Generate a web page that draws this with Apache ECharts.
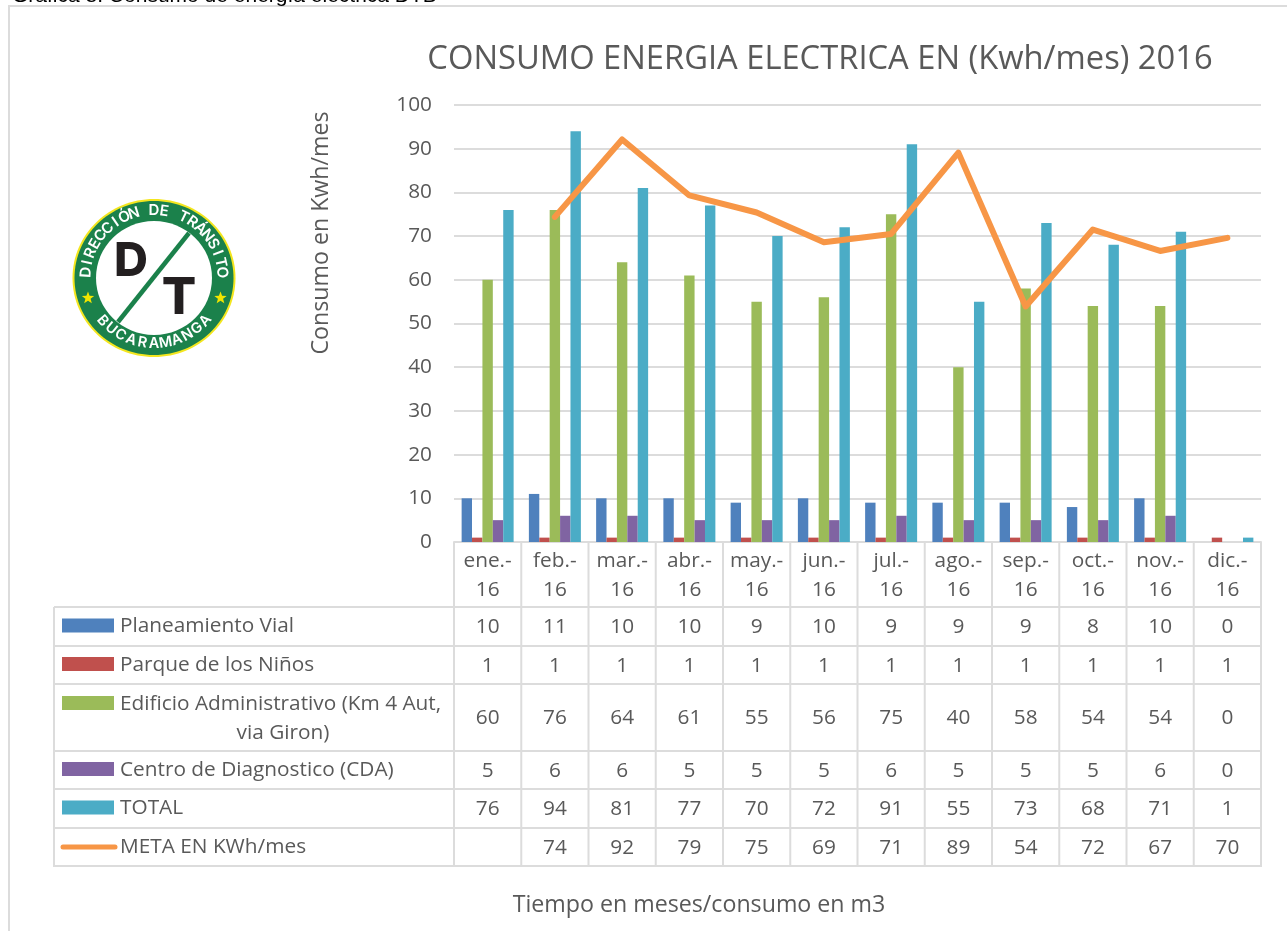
<!DOCTYPE html>
<html>
<head>
<meta charset="utf-8">
<style>
  html, body { margin: 0; padding: 0; background: #fff; }
  #main { width: 1287px; height: 931px; }
</style>
</head>
<body>
<div id="main"></div>
<script src="https://cdn.jsdelivr.net/npm/echarts@6/dist/echarts.min.js"></script>
<script>
var categories = ['ene.-\n16', 'feb.-\n16', 'mar.-\n16', 'abr.-\n16', 'may.-\n16', 'jun.-\n16', 'jul.-\n16', 'ago.-\n16', 'sep.-\n16', 'oct.-\n16', 'nov.-\n16', 'dic.-\n16']
var yTicks = [0, 10, 20, 30, 40, 50, 60, 70, 80, 90, 100]
var planeamiento = [10, 11, 10, 10, 9, 10, 9, 9, 9, 8, 10, 0]
var parque = [1, 1, 1, 1, 1, 1, 1, 1, 1, 1, 1, 1]
var edificio = [60, 76, 64, 61, 55, 56, 75, 40, 58, 54, 54, 0]
var centro = [5, 6, 6, 5, 5, 5, 6, 5, 5, 5, 6, 0]
var total = [76, 94, 81, 77, 70, 72, 91, 55, 73, 68, 71, 1]
// la linea va con decimales, la tabla los muestra redondeados
var meta = [null, 74.4, 92.1, 79.3, 75.4, 68.6, 70.5, 89.1, 53.9, 71.5, 66.6, 69.6]
var metaLabels = ['', 74, 92, 79, 75, 69, 71, 89, 54, 72, 67, 70]

var names = ['Planeamiento Vial', 'Parque de los Niños', 'Edificio Administrativo (Km 4 Aut,', 'Centro de Diagnostico (CDA)', 'TOTAL', 'META EN KWh/mes']
var colors = ['#4f81bd', '#c0504d', '#9bbb59', '#8064a2', '#4bacc6', '#f79646']
var rowValues = [planeamiento, parque, edificio, centro, total, metaLabels]

var FONT = 'Open Sans'
var TEXT = '#595959'
var LINE = '#dcdcdc'
var gridLeft = 454
var gridRight = 1261
var gridTop = 105
var gridBottom = 542
var tableLeft = 54
var rowLines = [607, 646, 684, 751, 789, 828, 866]
var cellW = (gridRight - gridLeft) / categories.length
var CELL_SIZE = 20.8

var chart = echarts.init(document.getElementById('main'))

function hLine(x1, x2, y) {
  return { type: 'line', silent: true, shape: { x1: x1, y1: y, x2: x2, y2: y }, style: { stroke: LINE, lineWidth: 2 } }
}
function vLine(x, y1, y2) {
  return { type: 'line', silent: true, shape: { x1: x, y1: y1, x2: x, y2: y2 }, style: { stroke: LINE, lineWidth: 2 } }
}
function label(text, x, y, size, align, color, family, weight) {
  return {
    type: 'text', silent: true, x: x, y: y,
    style: { text: text, align: align || 'center', verticalAlign: 'middle', fontSize: size, fill: color || TEXT, fontFamily: family || FONT, fontWeight: weight || 'normal' }
  }
}

// tabla de datos debajo del eje
function buildTable() {
  var els = []
  rowLines.forEach(function (y) { els.push(hLine(tableLeft, gridRight + 1, y)) })
  els.push(vLine(tableLeft, rowLines[0], rowLines[6] + 1))
  for (var i = 0; i <= categories.length; i++) {
    els.push(vLine(gridLeft + i * cellW, gridBottom, rowLines[6] + 1))
  }
  rowValues.forEach(function (vals, r) {
    var top = rowLines[r]
    var mid = (top + rowLines[r + 1]) / 2
    var labelY = r === 2 ? top + 19 : mid - 1
    if (r === 5) {
      els.push({ type: 'line', silent: true, shape: { x1: 63, y1: labelY + 1, x2: 115, y2: labelY + 1 }, style: { stroke: colors[r], lineWidth: 5, lineCap: 'round' } })
    } else {
      els.push({ type: 'rect', silent: true, shape: { x: 62, y: labelY - 7, width: 52, height: 14 }, style: { fill: colors[r] } })
    }
    els.push(label(names[r], 120, labelY + 1, CELL_SIZE, 'left'))
    if (r === 2) els.push(label('via Giron)', 283, top + 49, CELL_SIZE))
    vals.forEach(function (v, c) {
      if (v === '') return
      els.push(label(String(v), gridLeft + (c + 0.5) * cellW, mid + 1, CELL_SIZE))
    })
  })
  return els
}

// logo, dibujado con formas
function arcLetters(text, cx, cy, rx, ry, from, to, inward, size) {
  var out = []
  var n = text.length - 1
  for (var i = 0; i <= n; i++) {
    var deg = from + (to - from) * i / n
    var a = deg * Math.PI / 180
    var rot = inward ? -(a - Math.PI / 2) : -(a + Math.PI / 2)
    out.push({
      type: 'text', silent: true, x: cx + rx * Math.cos(a), y: cy + ry * Math.sin(a), rotation: rot,
      style: { text: text[i], align: 'center', verticalAlign: 'middle', fontSize: size, fontWeight: 600, fill: '#fff', fontFamily: 'Inter' }
    })
  }
  return out
}
function star(cx, cy, r) {
  var pts = []
  for (var i = 0; i < 10; i++) {
    var rad = i % 2 ? r * 0.42 : r
    var a = -Math.PI / 2 + i * Math.PI / 5
    pts.push([cx + rad * Math.cos(a), cy + rad * Math.sin(a)])
  }
  return { type: 'polygon', silent: true, shape: { points: pts }, style: { fill: '#f2e500' } }
}
function buildLogo() {
  var cx = 154, cy = 278
  var els = [
    { type: 'ellipse', silent: true, shape: { cx: cx, cy: cy, rx: 81.5, ry: 79 }, style: { fill: '#f4e61e' } },
    { type: 'ellipse', silent: true, shape: { cx: cx, cy: cy, rx: 79.5, ry: 77 }, style: { fill: '#1b814b' } },
    { type: 'ellipse', silent: true, shape: { cx: cx, cy: cy, rx: 58, ry: 57 }, style: { fill: '#fff' } },
    { type: 'line', silent: true, shape: { x1: 189, y1: 233, x2: 118, y2: 322 }, style: { stroke: '#1b814b', lineWidth: 4.5 } },
    label('D', 131, 262, 47, 'center', '#231f20', 'Inter', 800),
    label('T', 179, 299, 51, 'center', '#231f20', 'Inter', 800),
    star(88, 298, 6.5),
    star(220.5, 298, 6.5)
  ]
  return els
    .concat(arcLetters('DIRECCIÓN DE TRÁNSITO', cx, cy - 1, 68, 66.5, 184, 356, false, 15))
    .concat(arcLetters('BUCARAMANGA', cx, cy - 1, 68, 66.5, 139, 41, true, 14.5))
}

var barNames = names.slice(0, 5)
var barData = [planeamiento, parque, edificio, centro, total]
var series = barData.map(function (vals, i) {
  return {
    name: barNames[i], type: 'bar', data: vals, barWidth: 10.4, barGap: '0%',
    itemStyle: { color: colors[i] }
  }
})
series.push({
  name: names[5], type: 'line', data: meta, symbol: 'none', z: 5,
  lineStyle: { color: colors[5], width: 6, cap: 'round', join: 'round' }
})

var option = {
  animation: false,
  backgroundColor: '#fff',
  title: {
    text: 'CONSUMO ENERGIA ELECTRICA EN (Kwh/mes) 2016',
    left: 815, top: 38, textAlign: 'center',
    textStyle: { color: TEXT, fontSize: 32.7, fontWeight: 'normal', fontFamily: FONT }
  },
  grid: { left: gridLeft, top: gridTop, width: gridRight - gridLeft, height: gridBottom - gridTop, containLabel: false },
  xAxis: {
    type: 'category', data: categories,
    axisLine: { lineStyle: { color: LINE, width: 2 } },
    axisTick: { show: false },
    axisLabel: { color: TEXT, fontSize: CELL_SIZE, fontFamily: FONT, lineHeight: 29, margin: 5, interval: 0 }
  },
  yAxis: {
    type: 'value', min: yTicks[0], max: yTicks[yTicks.length - 1], interval: 10,
    axisLine: { show: false }, axisTick: { show: false },
    splitLine: { lineStyle: { color: LINE, width: 2 } },
    axisLabel: { color: TEXT, fontSize: CELL_SIZE, fontFamily: FONT, margin: 22 }
  },
  series: series,
  graphic: [
    { type: 'rect', silent: true, shape: { x: 9, y: 6, width: 1290, height: 940 }, style: { fill: 'none', stroke: LINE, lineWidth: 2 } },
    label('Gráfica 8. Consumo de energía eléctrica DTB', 12, -3.5, 21, 'left', '#000', 'Liberation Sans'),
    {
      type: 'text', silent: true, x: 321, y: 233, rotation: Math.PI / 2,
      style: { text: 'Consumo en Kwh/mes', align: 'center', verticalAlign: 'middle', fontSize: 23.2, fill: TEXT, fontFamily: FONT }
    },
    label('Tiempo en meses/consumo en m3', 699, 905, 23.2)
  ].concat(buildTable()).concat(buildLogo())
}
chart.setOption(option)
</script>
</body>
</html>
